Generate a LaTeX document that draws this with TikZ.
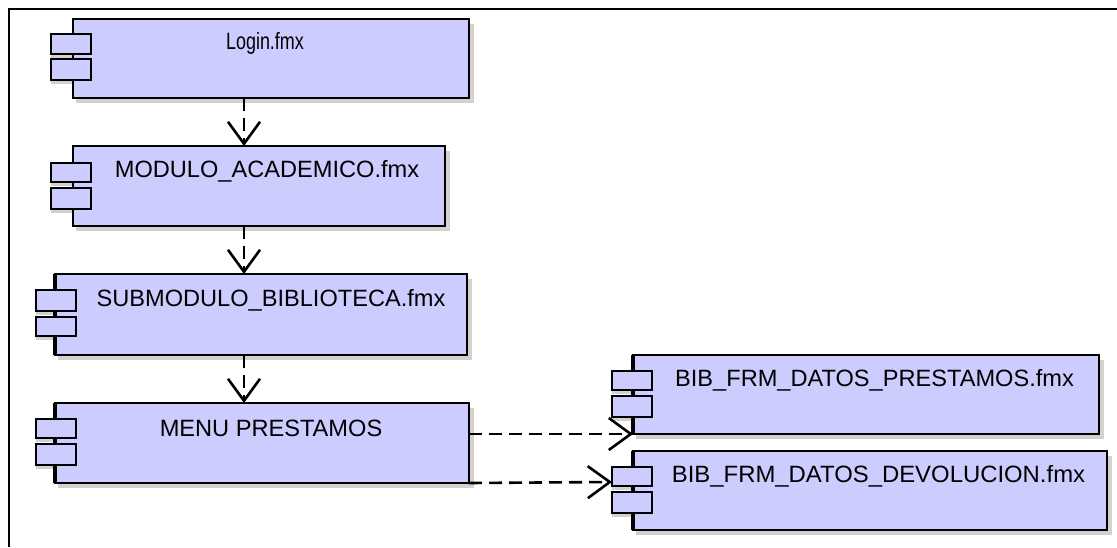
\documentclass[tikz,border=0pt]{standalone}
\usepackage{fontspec}
\setmainfont{Liberation Sans}
\usetikzlibrary{arrows.meta}
\definecolor{compfill}{HTML}{CCCCFF}
\definecolor{compshadow}{HTML}{D4D0D0}
\tikzset{
  compbox/.style={draw=black,line width=2.2pt,fill=compfill,rectangle,inner sep=0pt,outer sep=0pt},
  comptab/.style={draw=black,line width=2pt,fill=compfill,rectangle,inner sep=0pt,outer sep=0pt},
  complabel/.style={inner sep=0pt,outer sep=0pt,text=black,font=\fontsize{23.6}{26}\selectfont},
  shadowrect/.style={fill=compshadow,draw=none},
  dep/.style={line width=2.6pt,dash pattern=on 13pt off 7pt,-{Straight Barb[length=22pt,width=32pt,line width=2.6pt]}},
}
% name, x1, y1, x2, y2, tab x1, tab1 y1, tab1 y2, tab2 y1, tab2 y2, label x, label y, label
\def\leftw{2.2}
\newcommand{\compo}[1]{\def\cname{#1}\compoB}
\newcommand{\compoB}[9]{%
  \def\ax{#1}\def\ay{#2}\def\bx{#3}\def\by{#4}\def\tx{#5}\def\ta{#6}\def\tb{#7}\def\tc{#8}\def\td{#9}\compoC}
\newcommand{\compoC}[3]{%
  \fill[shadowrect] (\ax+3,\ay+5) rectangle (\bx+5,\by+5);
  \fill[shadowrect] (\tx+0,\ta+4) rectangle (\tx+40,\tb+4);
  \fill[shadowrect] (\tx+0,\tc+4) rectangle (\tx+40,\td+4);
  \node[compbox,minimum width={(\bx-\ax)*1pt},minimum height={(\by-\ay)*1pt}] (\cname) at ({(\ax+\bx)/2},{(\ay+\by)/2}) {};
  \draw[line width=\leftw pt] (\cname.north west) -- (\cname.south west);
  \node[comptab,minimum width=40pt,minimum height={(\tb-\ta)*1pt}] (\cname tabA) at (\tx+20,{(\ta+\tb)/2}) {};
  \node[comptab,minimum width=40pt,minimum height={(\td-\tc)*1pt}] (\cname tabB) at (\tx+20,{(\tc+\td)/2}) {};
  \node[complabel] (\cname label) at (#1,#2) {#3};
}
\begin{document}
\begin{tikzpicture}[x=1pt,y=-1pt]
\useasboundingbox (0,0) rectangle (1117,547);
\fill[white] (0,0) rectangle (1117,547);
\draw[line width=2.4pt] (1117,9) -- (9,9) -- (9,547);
\compo{login}{73}{19}{469}{98}{51}{34}{54}{59}{80}{265}{43}{\scalebox{0.76}[1]{Login.fmx}}
\compo{acad}{73}{146}{445}{226}{51}{163}{182}{188}{209}{267}{171}{MODULO\_ACADEMICO.fmx}
\def\leftw{3.6}
\compo{sub}{55}{274}{467}{355}{36}{290}{311}{317}{336}{271}{300}{SUBMODULO\_BIBLIOTECA.fmx}
\compo{menu}{55}{403}{469}{483}{36}{419}{438}{444}{465}{271}{428}{MENU PRESTAMOS}
\compo{prest}{633}{355}{1099}{434}{612}{371}{390}{396}{417}{874.5}{380}{BIB\_FRM\_DATOS\_PRESTAMOS.fmx}
\compo{devol}{633}{451}{1107}{530}{612}{467}{486}{492}{513}{878.5}{476}{\scalebox{1.012}[1]{BIB\_FRM\_DATOS\_DEVOLUCION.fmx}}
\draw[dep] ([xshift=-27pt]login.south) -- ([xshift=-15pt]acad.north);
\draw[dep] ([xshift=-15pt]acad.south) -- ([xshift=-17pt]sub.north);
\draw[dep] ([xshift=-17pt]sub.south) -- ([xshift=-18pt]menu.north);
\draw[dep] ([yshift=9pt]menu.east) -- (prest.south west);
\draw[dep] (menu.south east) -- ([yshift=-5.5pt]devoltabA.west);
\end{tikzpicture}
\end{document}
